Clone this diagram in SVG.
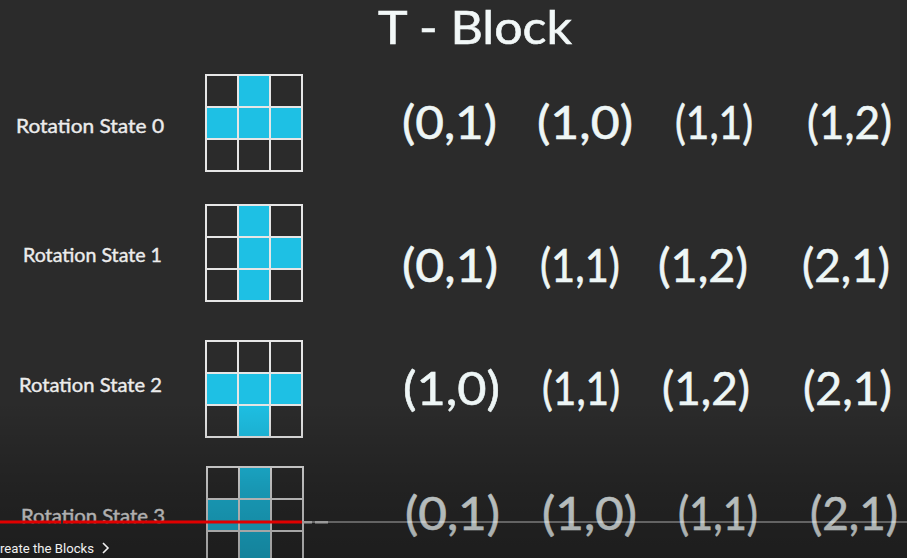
<svg xmlns="http://www.w3.org/2000/svg" width="907" height="558" viewBox="0 0 907 558">
<defs>
<linearGradient id="shade" x1="0" y1="0" x2="0" y2="558" gradientUnits="userSpaceOnUse">
<stop offset="0" stop-color="#000" stop-opacity="0"/>
<stop offset="0.72" stop-color="#000" stop-opacity="0"/>
<stop offset="0.88" stop-color="#000" stop-opacity="0.22"/>
<stop offset="1" stop-color="#000" stop-opacity="0.32"/>
</linearGradient>
<style>
.bg{fill:#2b2b2b}
.title{font-family:Lato,"Liberation Sans",sans-serif;font-size:46px;fill:#f2f8f8;stroke:#f2f8f8;stroke-width:0.6}
.lbl{font-family:Lato,"Liberation Sans",sans-serif;font-size:19px;fill:#ececec;stroke:#ececec;stroke-width:0.4}
.co{font-family:Lato,"Liberation Sans",sans-serif;font-size:46px;fill:#eef6f6;stroke:#eef6f6;stroke-width:0.6}
.on{fill:#1ec0e4}
.gl{fill:none;stroke:#e6e6e6;stroke-width:2}
.cap{font-family:Roboto,"Liberation Sans",sans-serif;font-size:13.5px;fill:#f0f0f0}
</style>
</defs>
<rect class="bg" x="0" y="0" width="907" height="558"/>
<text class="title" x="378" y="44" textLength="194" lengthAdjust="spacingAndGlyphs">T - Block</text>

<g id="state0">
<text class="lbl" x="16" y="133" textLength="148" lengthAdjust="spacingAndGlyphs">Rotation State 0</text>
<g transform="translate(206,75)">
<rect class="on" x="32" y="0" width="32" height="32"/>
<rect class="on" x="0" y="32" width="96" height="32"/>
<path class="gl" d="M0 0H96V96H0Z M32 0V96 M64 0V96 M0 32H96 M0 64H96"/>
</g>
<text class="co" x="402" y="139" textLength="95" lengthAdjust="spacingAndGlyphs">(0,1)</text>
<text class="co" x="537" y="139" textLength="96" lengthAdjust="spacingAndGlyphs">(1,0)</text>
<text class="co" x="675" y="139" textLength="78" lengthAdjust="spacingAndGlyphs">(1,1)</text>
<text class="co" x="807" y="139" textLength="85" lengthAdjust="spacingAndGlyphs">(1,2)</text>
</g>

<g id="state1">
<text class="lbl" x="23" y="262" textLength="139" lengthAdjust="spacingAndGlyphs">Rotation State 1</text>
<g transform="translate(206,205)">
<rect class="on" x="32" y="0" width="32" height="96"/>
<rect class="on" x="64" y="32" width="32" height="32"/>
<path class="gl" d="M0 0H96V96H0Z M32 0V96 M64 0V96 M0 32H96 M0 64H96"/>
</g>
<text class="co" x="402" y="282" textLength="96" lengthAdjust="spacingAndGlyphs">(0,1)</text>
<text class="co" x="540" y="282" textLength="80" lengthAdjust="spacingAndGlyphs">(1,1)</text>
<text class="co" x="658" y="282" textLength="90" lengthAdjust="spacingAndGlyphs">(1,2)</text>
<text class="co" x="802" y="282" textLength="88" lengthAdjust="spacingAndGlyphs">(2,1)</text>
</g>

<g id="state2">
<text class="lbl" x="19" y="392" textLength="143" lengthAdjust="spacingAndGlyphs">Rotation State 2</text>
<g transform="translate(206,341)">
<rect class="on" x="0" y="32" width="96" height="32"/>
<rect class="on" x="32" y="64" width="32" height="32"/>
<path class="gl" d="M0 0H96V96H0Z M32 0V96 M64 0V96 M0 32H96 M0 64H96"/>
</g>
<text class="co" x="403" y="405" textLength="97" lengthAdjust="spacingAndGlyphs">(1,0)</text>
<text class="co" x="542" y="405" textLength="78" lengthAdjust="spacingAndGlyphs">(1,1)</text>
<text class="co" x="662" y="405" textLength="88" lengthAdjust="spacingAndGlyphs">(1,2)</text>
<text class="co" x="803" y="405" textLength="89" lengthAdjust="spacingAndGlyphs">(2,1)</text>
</g>

<g id="state3">
<text class="lbl" x="21" y="523" textLength="144" lengthAdjust="spacingAndGlyphs">Rotation State 3</text>
<g transform="translate(207,467)">
<rect class="on" x="32" y="0" width="32" height="96"/>
<rect class="on" x="0" y="32" width="32" height="32"/>
<path class="gl" d="M0 0H96V96H0Z M32 0V96 M64 0V96 M0 32H96 M0 64H96"/>
</g>
<text class="co" x="405" y="530" textLength="95" lengthAdjust="spacingAndGlyphs">(0,1)</text>
<text class="co" x="542" y="530" textLength="95" lengthAdjust="spacingAndGlyphs">(1,0)</text>
<text class="co" x="678" y="530" textLength="80" lengthAdjust="spacingAndGlyphs">(1,1)</text>
<text class="co" x="810" y="530" textLength="88" lengthAdjust="spacingAndGlyphs">(2,1)</text>
</g>

<rect x="0" y="0" width="907" height="558" fill="url(#shade)"/>

<g id="player">
<rect x="302" y="521" width="605" height="2" fill="#ffffff" fill-opacity="0.3"/>
<rect x="302" y="521" width="10" height="2.5" fill="#9a9a9a"/>
<rect x="315" y="521" width="13" height="2.5" fill="#9a9a9a"/>
<rect x="0" y="520.5" width="302" height="3" fill="#e00000"/>
<rect x="61" y="520" width="2" height="4" fill="#2a2a2a"/>
<text class="cap" x="0" y="553" textLength="94" lengthAdjust="spacingAndGlyphs">reate the Blocks</text>
<path d="M103 543 L108 548 L103 553" fill="none" stroke="#f0f0f0" stroke-width="1.6"/>
</g>
</svg>
